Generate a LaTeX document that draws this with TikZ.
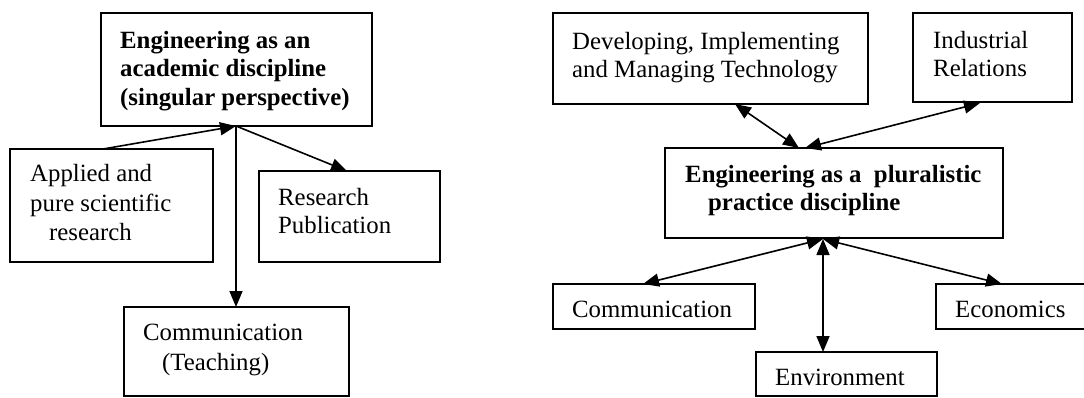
\documentclass[tikz,border=0pt]{standalone}
\usepackage{fontspec}
\setmainfont{Liberation Serif}
\usetikzlibrary{arrows.meta}
\tikzset{
  box/.style={draw, line width=1.6pt, inner sep=0pt, fill=none},
  txt/.style={inner sep=0pt, anchor=base west, font=\fontsize{24.8}{29}\selectfont},
  btxt/.style={txt, font=\fontsize{24.8}{29}\selectfont\bfseries},
  conn/.style={line width=1.6pt},
  >={Triangle[length=16pt,width=13pt]}
}
\begin{document}
\begin{tikzpicture}[x=1pt,y=-1pt]
\clip (0,0) rectangle (1084,397);
\fill[white] (0,0) rectangle (1084,397);
% ---------- left diagram ----------
\node[box, minimum width=271pt, minimum height=113pt] (L0) at (236.5,69.5) {};
\node[box, minimum width=203pt, minimum height=113pt] (Lapp) at (111.5,205.5) {};
\node[box, minimum width=181pt, minimum height=91pt] (Lres) at (349.5,216.5) {};
\node[box, minimum width=225pt, minimum height=89pt] (Lcom) at (236.5,351.5) {};
\node[btxt] (L0a) at (120,48) {Engineering as an};
\node[btxt] (L0b) at (120,76) {academic discipline};
\node[btxt] (L0c) at (120,105) {(singular perspective)};
\node[txt] (Lappa) at (30,181) {Applied and};
\node[txt] (Lappb) at (30,211) {pure scientific};
\node[txt] (Lappc) at (49,240) {research};
\node[txt] (Lresa) at (278,205) {Research};
\node[txt] (Lresb) at (278,233) {Publication};
\node[txt] (Lcoma) at (143,340) {Communication};
\node[txt] (Lcomb) at (162,370) {(Teaching)};
\coordinate (hubL) at (236,126);
\coordinate (appTop) at (103,149);
\coordinate (resTop) at (347,171);
\coordinate (comTop) at (236,307);
\draw[conn,->] (appTop) -- (hubL);
\draw[conn,->] (hubL) -- (resTop);
\draw[conn,->] (hubL) -- (comTop);
% ---------- right diagram ----------
\node[box, minimum width=315pt, minimum height=91pt] (Rdev) at (710.5,58.5) {};
\node[box, minimum width=159pt, minimum height=89pt] (Rind) at (992.5,57.5) {};
\node[box, minimum width=338pt, minimum height=90pt] (R0) at (834,193) {};
\node[box, minimum width=202pt, minimum height=45pt] (Rcom) at (654,306.5) {};
\node[box, minimum width=160pt, minimum height=45pt] (Reco) at (1016,306.5) {};
\node[box, minimum width=181pt, minimum height=44pt] (Renv) at (846.5,374) {};
\node[txt] (Rdeva) at (572,49) {Developing, Implementing};
\node[txt] (Rdevb) at (572,77) {and Managing Technology};
\node[txt] (Rinda) at (933,48) {Industrial};
\node[txt] (Rindb) at (933,76) {Relations};
\node[btxt] (R0a) at (685,182) {Engineering as a\ \ pluralistic};
\node[btxt] (R0b) at (708,210) {practice discipline};
\node[txt] (Rcoma) at (572,317) {Communication};
\node[txt] (Recoa) at (955,317) {Economics};
\node[txt] (Renva) at (775,385) {Environment};
\coordinate (devBot) at (735,104);
\coordinate (hubT1) at (799,148);
\coordinate (hubT2) at (805,148);
\coordinate (indBot) at (980,103);
\coordinate (hubB) at (823,239);
\coordinate (comTopR) at (643,284);
\coordinate (ecoTop) at (1002,284);
\coordinate (envTop) at (823,352);
\draw[conn,<->] (devBot) -- (hubT1);
\draw[conn,<->] (hubT2) -- (indBot);
\draw[conn,<->] (hubB) -- (comTopR);
\draw[conn,<->] (hubB) -- (ecoTop);
\draw[conn,<->] (hubB) -- (envTop);
\end{tikzpicture}
\end{document}
